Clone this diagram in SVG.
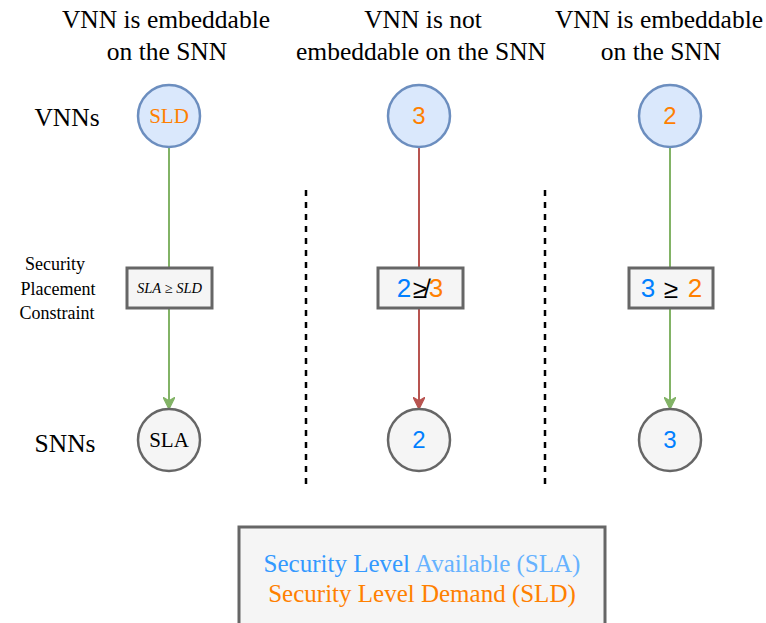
<svg xmlns="http://www.w3.org/2000/svg" width="766" height="623" viewBox="0 0 766 623">
  <defs>
    <marker id="arrowG" viewBox="0 0 10 10" refX="9" refY="5" markerWidth="12" markerHeight="12" markerUnits="userSpaceOnUse" orient="auto">
      <path d="M0,0 L10,5 L0,10 L3,5 Z" fill="#82b366" stroke="#82b366"/>
    </marker>
    <marker id="arrowR" viewBox="0 0 10 10" refX="9" refY="5" markerWidth="12" markerHeight="12" markerUnits="userSpaceOnUse" orient="auto">
      <path d="M0,0 L10,5 L0,10 L3,5 Z" fill="#b85450" stroke="#b85450"/>
    </marker>
  </defs>
  <style>
    .serif { font-family: "Liberation Serif", "Times New Roman", serif; }
    .sans { font-family: "Liberation Sans", Arial, sans-serif; }
    .title { font-size: 25.5px; text-anchor: middle; fill: #000; }
    .rowlab { font-size: 25.5px; text-anchor: middle; fill: #000; }
    .small { font-size: 18px; text-anchor: middle; fill: #000; }
    .vnn { fill: #dae8fc; stroke: #6c8ebf; stroke-width: 2.5; }
    .snn { fill: #f5f5f5; stroke: #666666; stroke-width: 2.5; }
    .box { fill: #f5f5f5; stroke: #666666; stroke-width: 3; }
    .num { font-size: 24px; text-anchor: middle; }
    .big { font-size: 26px; text-anchor: middle; }
    .black { fill: #000; }
    .orange { fill: #ff8000; }
    .blue { fill: #007fff; }
    .blue2 { fill: #3399ff; }
    .blue3 { fill: #66b2ff; }
    .green { stroke: #82b366; stroke-width: 2; fill: none; }
    .red { stroke: #b85450; stroke-width: 2; fill: none; }
    .sep { stroke: #000; stroke-width: 2.5; stroke-dasharray: 6 6; }
  </style>

  <!-- column headings -->
  <text class="serif title" x="166" y="28">VNN is embeddable</text>
  <text class="serif title" x="167" y="60">on the SNN</text>
  <text class="serif title" x="423" y="28">VNN is not</text>
  <text class="serif title" x="421" y="60">embeddable on the SNN</text>
  <text class="serif title" x="659" y="28">VNN is embeddable</text>
  <text class="serif title" x="661" y="60">on the SNN</text>

  <!-- row labels -->
  <text class="serif rowlab" x="67" y="126">VNNs</text>
  <text class="serif rowlab" x="65" y="452">SNNs</text>
  <text class="serif small" x="55" y="270">Security</text>
  <text class="serif small" x="58" y="295">Placement</text>
  <text class="serif small" x="57" y="319">Constraint</text>

  <!-- separators -->
  <line class="sep" x1="306" y1="190" x2="306" y2="490"/>
  <line class="sep" x1="545" y1="190" x2="545" y2="490"/>

  <!-- connectors -->
  <g id="connectors">
    <line class="green" x1="169" y1="148" x2="169" y2="268"/>
    <line class="green" x1="169" y1="308" x2="169" y2="408" marker-end="url(#arrowG)"/>
    <line class="red" x1="419" y1="148" x2="419" y2="268"/>
    <line class="red" x1="419" y1="308" x2="419" y2="408" marker-end="url(#arrowR)"/>
    <line class="green" x1="670" y1="148" x2="670" y2="268"/>
    <line class="green" x1="670" y1="308" x2="670" y2="408" marker-end="url(#arrowG)"/>
  </g>

  <!-- column 1 -->
  <g id="vnn1">
    <circle class="vnn" cx="169" cy="116" r="31"/>
    <text class="serif orange" x="169" y="123" font-size="21" text-anchor="middle">SLD</text>
  </g>
  <g id="constraint1">
    <rect class="box" x="127" y="268" width="85" height="40"/>
    <text class="serif black" x="169.5" y="293" font-size="14.5" font-style="italic" text-anchor="middle">SLA ≥ SLD</text>
  </g>
  <g id="snn1">
    <circle class="snn" cx="169" cy="440" r="31"/>
    <text class="serif black" x="169" y="447" font-size="21" text-anchor="middle">SLA</text>
  </g>

  <!-- column 2 -->
  <g id="vnn2">
    <circle class="vnn" cx="419" cy="116" r="31"/>
    <text class="sans num orange" x="419" y="124">3</text>
  </g>
  <g id="constraint2">
    <rect class="box" x="378" y="268" width="85" height="40"/>
    <text class="sans big blue" x="404" y="297">2</text>
    <text class="sans big black" x="420" y="298">≱</text>
    <text class="sans big orange" x="436" y="297">3</text>
  </g>
  <g id="snn2">
    <circle class="snn" cx="419" cy="440" r="31"/>
    <text class="sans num blue" x="419" y="448">2</text>
  </g>

  <!-- column 3 -->
  <g id="vnn3">
    <circle class="vnn" cx="670" cy="116" r="31"/>
    <text class="sans num orange" x="670" y="124">2</text>
  </g>
  <g id="constraint3">
    <rect class="box" x="629" y="268" width="84" height="40"/>
    <text class="sans big blue" x="648" y="297">3</text>
    <text class="sans big black" x="671" y="298">≥</text>
    <text class="sans big orange" x="695" y="297">2</text>
  </g>
  <g id="snn3">
    <circle class="snn" cx="670" cy="440" r="31"/>
    <text class="sans num blue" x="670" y="448">3</text>
  </g>

  <!-- legend -->
  <g id="legend">
    <rect class="box" x="239" y="527" width="366" height="110"/>
    <text class="serif" x="422" y="572" font-size="25" text-anchor="middle"><tspan class="blue2">Security Level </tspan><tspan class="blue3">Available (SLA)</tspan></text>
    <text class="serif orange" x="422" y="602" font-size="25" text-anchor="middle">Security Level Demand (SLD)</text>
  </g>
</svg>
